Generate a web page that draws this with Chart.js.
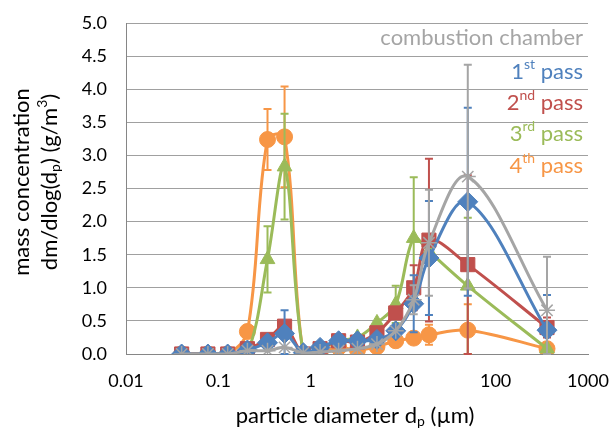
<!DOCTYPE html>
<html>
<head>
<meta charset="utf-8">
<script src="https://cdn.jsdelivr.net/npm/chart.js@4/dist/chart.umd.min.js"></script>
<style>
  html, body { margin: 0; padding: 0; background: #fff; }
  #wrap { width: 614px; height: 432px; position: relative; }
</style>
</head>
<body>
<div id="wrap"><canvas id="chart"></canvas></div>
<script>
// particle diameter classes (µm)
const diameters = [0.04, 0.077, 0.126, 0.206, 0.34, 0.52, 0.83, 1.26, 2.0, 3.2, 5.2, 8.3, 13, 19, 50, 360];

// mass concentration dm/dlog(dp), g/m3
const combustionChamber = [0, 0, 0, 0.05, 0.05, 0.10, 0.02, 0.03, 0.05, 0.08, 0.15, 0.35, 0.82, 1.68, 2.68, 0.66];
const pass1 = [0, 0, 0, 0.06, 0.17, 0.31, 0.02, 0.10, 0.20, 0.20, 0.22, 0.35, 0.76, 1.45, 2.30, 0.36];
const pass2 = [0, 0, 0, 0.08, 0.22, 0.42, 0.00, 0.08, 0.20, 0.18, 0.32, 0.62, 1.00, 1.72, 1.35, 0.40];
const pass3 = [0, 0, 0, 0.02, 1.43, 2.83, 0.02, 0.08, 0.20, 0.25, 0.47, 0.75, 1.75, 1.55, 1.03, 0.08];
const pass4 = [0, 0, 0, 0.34, 3.24, 3.28, 0.00, 0.02, 0.10, 0.06, 0.11, 0.20, 0.24, 0.29, 0.36, 0.08];

// +/- error (standard deviation)
const errCombustion = [0, 0, 0, 0, 0, 0, 0, 0, 0, 0, 0, 0, 0.22, 0.80, 1.69, 0.81];
const errPass1 = [0, 0, 0, 0, 0, 0.35, 0, 0, 0, 0, 0, 0, 0.43, 0.86, 1.42, 0.53];
const errPass2 = [0, 0, 0, 0, 0, 0, 0, 0, 0, 0, 0, 0, 0.34, 1.23, 1.35, 0.15];
const errPass3 = [0, 0, 0, 0, 0.50, 0.80, 0, 0, 0, 0, 0, 0.28, 0.92, 0, 1.03, 0];
const errPass4 = [0, 0, 0, 0.05, 0.46, 0.76, 0, 0, 0, 0, 0, 0, 0, 0.15, 0.39, 0];

const xTicks = [0.01, 0.1, 1, 10, 100, 1000];

const FONT = 'Lato, "Open Sans", sans-serif';
const GRAY = '#A5A5A5', BLUE = '#4F81BD', RED = '#C0504D', GREEN = '#9BBB59', ORANGE = '#F79646';

function series(label, values, errs, color, style, radius) {
  return {
    label,
    data: diameters.map((d, i) => ({ x: d, y: values[i] })),
    errors: errs,
    borderColor: color,
    backgroundColor: color,
    borderWidth: 3,
    pointStyle: style,
    pointRadius: radius,
    pointBorderWidth: style === 'star' ? 1.5 : 1,
    pointBorderColor: color,
    pointBackgroundColor: color,
    tension: 0.35,
  };
}

const datasets = [
  series('combustion chamber', combustionChamber, errCombustion, GRAY, 'star', 8),
  series('1st pass', pass1, errPass1, BLUE, 'rectRot', 10),
  series('2nd pass', pass2, errPass2, RED, 'rect', 10),
  series('3rd pass', pass3, errPass3, GREEN, 'triangle', 8.5),
  series('4th pass', pass4, errPass4, ORANGE, 'circle', 8),
];

// error bars drawn just under each dataset's own line
const errorBars = {
  id: 'errorBars',
  beforeDatasetDraw(chart, args) {
    const ds = chart.data.datasets[args.index];
    const meta = args.meta;
    const y = chart.scales.y;
    const ctx = chart.ctx;
    ctx.save();
    ctx.strokeStyle = ds.borderColor;
    ctx.lineWidth = 2;
    meta.data.forEach((pt, i) => {
      const e = ds.errors[i];
      if (!e) return;
      const v = ds.data[i].y;
      const top = y.getPixelForValue(v + e);
      const bot = y.getPixelForValue(Math.max(0, v - e));
      ctx.beginPath();
      ctx.moveTo(pt.x, top); ctx.lineTo(pt.x, bot);
      ctx.moveTo(pt.x - 4, top); ctx.lineTo(pt.x + 4, top);
      ctx.moveTo(pt.x - 4, bot); ctx.lineTo(pt.x + 4, bot);
      ctx.stroke();
    });
    ctx.restore();
  }
};

// draw runs of text with sub/superscripts; parts = [[text, kind]]
function runWidth(ctx, parts, size) {
  let w = 0;
  parts.forEach(([t, k]) => {
    ctx.font = (k === 'n' ? size : Math.round(size * 0.62)) + 'px ' + FONT;
    w += ctx.measureText(t).width;
  });
  return w;
}
function drawRun(ctx, parts, x, y, size) {
  parts.forEach(([t, k]) => {
    const s = k === 'n' ? size : Math.round(size * 0.62);
    ctx.font = s + 'px ' + FONT;
    const dy = k === 'sup' ? -size * 0.36 : k === 'sub' ? size * 0.25 : 0;
    ctx.fillText(t, x, y + dy);
    x += ctx.measureText(t).width;
  });
}

const labels = {
  id: 'labels',
  afterDraw(chart) {
    const ctx = chart.ctx;
    ctx.save();
    ctx.textBaseline = 'middle';
    ctx.textAlign = 'left';

    // legend-like series labels, right aligned
    const legend = [
      [[['combustion chamber', 'n']], GRAY, 38],
      [[['1', 'n'], ['st', 'sup'], [' pass', 'n']], BLUE, 72],
      [[['2', 'n'], ['nd', 'sup'], [' pass', 'n']], RED, 103],
      [[['3', 'n'], ['rd', 'sup'], [' pass', 'n']], GREEN, 134],
      [[['4', 'n'], ['th', 'sup'], [' pass', 'n']], ORANGE, 166],
    ];
    legend.forEach(([parts, color, yy]) => {
      ctx.fillStyle = color;
      const w = runWidth(ctx, parts, 22);
      drawRun(ctx, parts, 583 - w, yy, 22);
    });

    ctx.fillStyle = '#000';
    // x axis title
    const xt = [['particle diameter d', 'n'], ['p', 'sub'], [' (µm)', 'n']];
    const xw = runWidth(ctx, xt, 22);
    drawRun(ctx, xt, 355 - xw / 2, 416, 22);

    // y axis title, two lines rotated
    ctx.translate(0, 182);
    ctx.rotate(-Math.PI / 2);
    const y1 = [['mass concentration', 'n']];
    const y2 = [['dm/dlog(d', 'n'], ['p', 'sub'], [') (g/m', 'n'], ['3', 'sup'], [')', 'n']];
    drawRun(ctx, y1, -runWidth(ctx, y1, 22) / 2, 22, 22);
    drawRun(ctx, y2, -runWidth(ctx, y2, 22) / 2, 50, 22);
    ctx.restore();
  }
};

new Chart(document.getElementById('chart'), {
  type: 'line',
  data: { datasets },
  plugins: [errorBars, labels],
  options: {
    responsive: true,
    maintainAspectRatio: false,
    animation: false,
    layout: { padding: { top: 23, right: 26, left: 0, bottom: 0 } },
    plugins: { legend: { display: false }, tooltip: { enabled: false } },
    scales: {
      x: {
        type: 'logarithmic',
        min: 0.01,
        max: 1000,
        afterBuildTicks: (s) => { s.ticks = xTicks.map((v) => ({ value: v })); },
        afterFit: (s) => { s.height = 78; s.paddingLeft = 0; s.paddingRight = 0; },
        grid: { display: false, drawTicks: false },
        border: { display: true, color: '#868686', width: 1 },
        ticks: {
          color: '#000',
          padding: 16,
          maxRotation: 0,
          autoSkip: false,
          font: { family: FONT, size: 18 },
          callback: (v) => String(v),
        },
      },
      y: {
        min: 0,
        max: 5,
        afterFit: (s) => { s.width = 126; s.paddingTop = 0; s.paddingBottom = 0; },
        grid: { color: '#A0A0A0', lineWidth: 1, drawTicks: false },
        border: { display: true, color: '#868686', width: 1 },
        ticks: {
          stepSize: 0.5,
          color: '#000',
          padding: 19,
          font: { family: FONT, size: 18 },
          callback: (v) => v.toFixed(1),
        },
      },
    },
  },
});
</script>
</body>
</html>
